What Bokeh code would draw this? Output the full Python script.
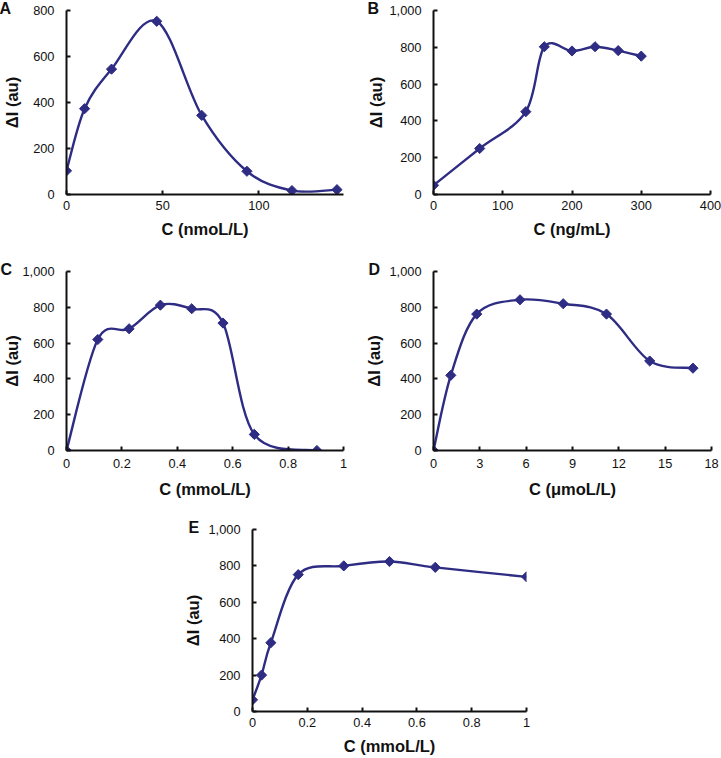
import numpy as np
from bokeh.plotting import figure
from bokeh.layouts import column, row, Spacer
from bokeh.models import Range1d, FixedTicker, NumeralTickFormatter
from bokeh.embed import file_html
from bokeh.resources import INLINE

# ---- data ----
A_x = [0, 9.4, 23.4, 46.9, 70.3, 93.8, 117.2, 140.6]
A_y = [103, 373, 545, 753, 344, 101, 17, 21]
B_x = [0, 66.7, 133.3, 160, 200, 233.3, 266.7, 300]
B_y = [50, 250, 450, 803, 780, 803, 782, 752]
C_x = [0, 0.113, 0.226, 0.339, 0.452, 0.565, 0.678, 0.904]
C_y = [0, 620, 680, 812, 792, 712, 90, 0]
D_x = [0, 1.12, 2.8, 5.6, 8.4, 11.2, 14.0, 16.8]
D_y = [0, 420, 762, 842, 820, 762, 500, 460]
E_x = [0, 0.033, 0.067, 0.167, 0.333, 0.5, 0.667, 1.0]
E_y = [64, 200, 378, 752, 800, 824, 792, 740]

A_xticks = [0, 50, 100]
B_xticks = [0, 100, 200, 300, 400]
C_xticks = [0, 0.2, 0.4, 0.6, 0.8, 1]
D_xticks = [0, 3, 6, 9, 12, 15, 18]
E_xticks = [0, 0.2, 0.4, 0.6, 0.8, 1]
Y800_ticks = [0, 200, 400, 600, 800]
Y1000_ticks = [0, 200, 400, 600, 800, 1000]

SERIES = "#2E2C83"
INK = "#111111"
FONT = "Liberation Sans"


def smooth_segments(xs, ys):
    """Catmull-Rom style Bezier segments (like a spreadsheet's smoothed line)."""
    pts = np.column_stack([xs, ys]).astype(float)
    n = len(pts)
    out = {k: [] for k in ("x0", "y0", "x1", "y1", "cx0", "cy0", "cx1", "cy1")}
    for i in range(n - 1):
        p0 = pts[i - 1] if i > 0 else pts[i]
        p1 = pts[i]
        p2 = pts[i + 1]
        p3 = pts[i + 2] if i + 2 < n else pts[i + 1]
        c1 = p1 + (p2 - p0) / 6.0
        c2 = p2 - (p3 - p1) / 6.0
        out["x0"].append(p1[0]); out["y0"].append(p1[1])
        out["x1"].append(p2[0]); out["y1"].append(p2[1])
        out["cx0"].append(c1[0]); out["cy0"].append(c1[1])
        out["cx1"].append(c2[0]); out["cy1"].append(c2[1])
    return out


def panel(letter, xs, ys, xmax, ymax, xticks, yticks, xlabel, w, h,
          bl, br, bt, bb, letter_dx, x_std=6, x_lab_std=7, y_lab_std=7, xfmt=None):
    p = figure(width=w, height=h, x_range=Range1d(0, xmax), y_range=Range1d(0, ymax),
               output_backend="svg", toolbar_location=None,
               min_border_left=bl, min_border_right=br,
               min_border_top=bt, min_border_bottom=bb)
    p.outline_line_color = None
    p.xgrid.visible = False
    p.ygrid.visible = False
    p.background_fill_color = "white"
    p.border_fill_color = "white"

    seg = smooth_segments(xs, ys)
    p.bezier(**seg, line_color=SERIES, line_width=2.4)
    p.scatter(xs, ys, marker="square", size=7.2, angle=np.pi / 4,
              fill_color=SERIES, line_color=SERIES)

    for ax in (p.xaxis[0], p.yaxis[0]):
        ax.axis_line_color = INK
        ax.axis_line_width = 2
        ax.major_tick_line_color = INK
        ax.major_tick_line_width = 2
        ax.major_tick_in = 4
        ax.major_tick_out = 0
        ax.minor_tick_in = 0
        ax.minor_tick_out = 0
        ax.major_label_text_font = FONT
        ax.major_label_text_font_size = "12.8px"
        ax.major_label_text_color = INK
        ax.axis_label_text_font = FONT
        ax.axis_label_text_font_style = "bold"
        ax.axis_label_text_font_size = "16.5px"
        ax.axis_label_text_color = INK

    p.xaxis.ticker = FixedTicker(ticks=xticks)
    p.yaxis.ticker = FixedTicker(ticks=yticks)
    p.yaxis.formatter = NumeralTickFormatter(format="0,0")
    if xfmt:
        p.xaxis.formatter = NumeralTickFormatter(format=xfmt)
    p.xaxis.major_label_standoff = x_std
    p.xaxis.axis_label_standoff = x_lab_std
    p.yaxis.major_label_standoff = 12
    p.yaxis.axis_label_standoff = y_lab_std
    p.xaxis.axis_label = xlabel
    p.yaxis.axis_label = "ΔI (au)"

    # panel letter, drawn as the plot title at the top-left corner
    p.title.text = letter
    p.title.align = "left"
    p.title.offset = letter_dx
    p.title.standoff = -12.5
    p.title.text_font = FONT
    p.title.text_font_style = "bold"
    p.title.text_font_size = "16px"
    p.title.text_color = INK
    return p


pA = panel("A", A_x, A_y, 144, 800, A_xticks, Y800_ticks, "C (nmoL/L)",
           360, 240, 66, 17, 10, 44, -67, x_std=6, x_lab_std=7, y_lab_std=9)
pB = panel("B", B_x, B_y, 400, 1000, B_xticks, Y1000_ticks, "C (ng/mL)",
           361, 240, 73, 11, 9, 44, -66, x_std=6, x_lab_std=7, y_lab_std=1)
pC = panel("C", C_x, C_y, 1, 1000, C_xticks, Y1000_ticks, "C (mmoL/L)",
           360, 260, 66, 17, 30, 48, -66, x_std=8, x_lab_std=9, y_lab_std=-2, xfmt="0.[0]")
pD = panel("D", D_x, D_y, 18, 1000, D_xticks, Y1000_ticks, "C (μmoL/L)",
           361, 260, 73, 10, 31, 47, -65, x_std=8, x_lab_std=9, y_lab_std=3)
pE = panel("E", E_x, E_y, 1, 1000, E_xticks, Y1000_ticks, "C (mmoL/L)",
           361, 257, 72, 15, 29, 42, -64, x_std=6, x_lab_std=7, y_lab_std=3, xfmt="0.[0]")

layout = column(row(pA, pB), row(pC, pD), row(Spacer(width=180, height=257), pE))

open("out.html", "w").write(file_html(layout, INLINE))
